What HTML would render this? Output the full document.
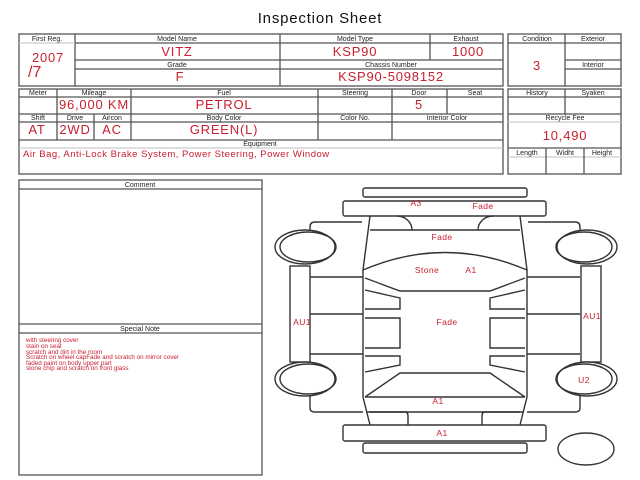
<!DOCTYPE html>
<html><head><style>
html,body{margin:0;padding:0;background:#fff;}
svg{display:block;font-family:"Liberation Sans",sans-serif;}
.l{font-size:7px;fill:#222;text-anchor:middle;}
.v{font-size:13px;fill:#c8202e;text-anchor:middle;letter-spacing:0.8px;}
.r{fill:#c8202e;}
.b{fill:none;stroke:#555;stroke-width:1.3;}
.c{fill:none;stroke:#333;stroke-width:1.4;}
</style></head><body>
<svg width="640" height="480" viewBox="0 0 640 480">
<text x="320" y="23" font-size="15" text-anchor="middle" fill="#111" letter-spacing="0.8">Inspection Sheet</text>

<g class="b">
<rect x="19" y="34" width="484" height="52"/>
<line x1="75" y1="34" x2="75" y2="86"/><line x1="280" y1="34" x2="280" y2="86"/><line x1="430" y1="34" x2="430" y2="60"/>
<line x1="75" y1="43" x2="503" y2="43"/><line x1="19" y1="43" x2="75" y2="43" stroke="#ccc"/>
<line x1="75" y1="60" x2="503" y2="60"/><line x1="75" y1="69" x2="503" y2="69"/>

<rect x="19" y="89" width="484" height="85"/>
<line x1="19" y1="97" x2="503" y2="97"/><line x1="19" y1="114" x2="503" y2="114"/><line x1="19" y1="122" x2="503" y2="122"/><line x1="19" y1="140" x2="503" y2="140"/><line x1="19" y1="148" x2="503" y2="148" stroke="#ccc"/>
<line x1="57" y1="89" x2="57" y2="140"/><line x1="131" y1="89" x2="131" y2="140"/><line x1="318" y1="89" x2="318" y2="140"/><line x1="392" y1="89" x2="392" y2="140"/><line x1="447" y1="89" x2="447" y2="114"/><line x1="94" y1="114" x2="94" y2="140"/>

<rect x="508" y="34" width="113" height="52"/>
<line x1="565" y1="34" x2="565" y2="86"/><line x1="508" y1="43" x2="621" y2="43"/><line x1="565" y1="60" x2="621" y2="60"/><line x1="565" y1="69" x2="621" y2="69"/>
<rect x="508" y="89" width="113" height="85"/>
<line x1="565" y1="89" x2="565" y2="114"/><line x1="508" y1="97" x2="621" y2="97"/><line x1="508" y1="114" x2="621" y2="114"/><line x1="508" y1="122" x2="621" y2="122" stroke="#ccc"/><line x1="508" y1="148" x2="621" y2="148"/><line x1="508" y1="157" x2="621" y2="157" stroke="#ccc"/>
<line x1="546" y1="148" x2="546" y2="174"/><line x1="584" y1="148" x2="584" y2="174"/>

<rect x="19" y="180" width="243" height="295"/>
<line x1="19" y1="189" x2="262" y2="189"/><line x1="19" y1="324" x2="262" y2="324"/><line x1="19" y1="333" x2="262" y2="333"/>
</g>

<text class="l" x="47" y="41">First Reg.</text><text class="l" x="177" y="41">Model Name</text><text class="l" x="355" y="41">Model Type</text><text class="l" x="466" y="41">Exhaust</text>
<text class="l" x="177" y="67">Grade</text><text class="l" x="391" y="67">Chassis Number</text>
<text class="v" x="48" y="62" font-size="16">2007</text><text class="r" x="28" y="77" font-size="16">/7</text>
<text class="v" x="177" y="56">VITZ</text><text class="v" x="355" y="56">KSP90</text><text class="v" x="468" y="56">1000</text>
<text class="v" x="180" y="81">F</text><text class="v" x="391" y="81">KSP90-5098152</text>

<text class="l" x="38" y="95">Meter</text><text class="l" x="94" y="95">Mileage</text><text class="l" x="224" y="95">Fuel</text><text class="l" x="355" y="95">Steering</text><text class="l" x="419" y="95">Door</text><text class="l" x="475" y="95">Seat</text>
<text class="l" x="38" y="120">Shift</text><text class="l" x="75" y="120">Drive</text><text class="l" x="112" y="120">Aircon</text><text class="l" x="224" y="120">Body Color</text><text class="l" x="355" y="120">Color No.</text><text class="l" x="447" y="120">Interior Color</text>
<text class="l" x="260" y="146">Equipment</text>
<text class="v" x="94" y="109" font-size="10">96,000 KM</text><text class="v" x="224" y="109">PETROL</text><text class="v" x="419" y="109">5</text>
<text class="v" x="37" y="134">AT</text><text class="v" x="75" y="134">2WD</text><text class="v" x="112" y="134">AC</text><text class="v" x="224" y="134">GREEN(L)</text>
<text class="r" x="23" y="157" font-size="9.5" letter-spacing="0.5">Air Bag, Anti-Lock Brake System, Power Steering, Power Window</text>

<text class="l" x="537" y="41">Condition</text><text class="l" x="593" y="41">Exterior</text><text class="l" x="593" y="67">Interior</text>
<text class="v" x="537" y="70" font-size="16">3</text>
<text class="l" x="537" y="95">History</text><text class="l" x="593" y="95">Syaken</text><text class="l" x="565" y="120">Recycle Fee</text>
<text class="v" x="565" y="140">10,490</text>
<text class="l" x="527" y="155">Length</text><text class="l" x="565" y="155">Widht</text><text class="l" x="602" y="155">Height</text>

<text class="l" x="140" y="187">Comment</text><text class="l" x="140" y="331">Special Note</text>
<g class="r" font-size="6.3">
<text x="26" y="342">with steering cover</text><text x="26" y="348">stain on seat</text><text x="26" y="354">scratch and dirt in the room</text>
<text x="26" y="359">Scratch on wheel capFade and scratch on mirror cover</text><text x="26" y="365">faded paint on body upper part</text><text x="26" y="370">stone chip and scratch on front glass</text>
</g>

<g class="c">
<rect x="363" y="188" width="164" height="9" rx="2"/>
<rect x="343" y="201" width="203" height="15" rx="2"/>
<rect x="343" y="425" width="203" height="16" rx="2"/>
<rect x="363" y="443" width="164" height="10" rx="2"/>
<path d="M370 216 L363 270 L363 397 L370 425 M520 216 L527 270 L527 397 L520 425"/>
<line x1="370" y1="230" x2="520" y2="230"/>
<path d="M397 216 A15 14 0 0 1 412 230 M493 216 A15 14 0 0 0 478 230"/>
<path d="M363 270 Q445 235 527 270"/>
<path d="M365 278 L400 291 L490 291 L525 278 M365 397 L400 373 L490 373 L525 397"/>
<path d="M365 290 L400 298 L400 309 L365 309 M525 290 L490 298 L490 309 L525 309"/>
<path d="M365 318 L400 318 L400 348 L365 348 M525 318 L490 318 L490 348 L525 348"/>
<path d="M365 356 L400 356 L400 365 L365 372 M525 356 L490 356 L490 365 L525 372"/>
<line x1="365" y1="397" x2="525" y2="397"/><line x1="367" y1="412" x2="523" y2="412"/>
<path d="M370 412 L405 412 Q408 412 408 416 L408 425 M520 412 L485 412 Q482 412 482 416 L482 425"/>
<path d="M362 222 L315 222 Q310 222 310 227 L310 231 M310 367 L310 408 Q310 412 315 412 L363 412"/>
<path d="M528 222 L575 222 Q580 222 580 227 L580 231 M580 367 L580 408 Q580 412 575 412 L527 412"/>
<rect x="290" y="266" width="20" height="96"/><rect x="581" y="266" width="20" height="96"/>
<path d="M310 277 L363 277 M310 314 L363 314 M310 354 L363 354 M527 277 L580 277 M527 314 L580 314 M527 354 L580 354"/>
<ellipse cx="305" cy="247" rx="30" ry="17" fill="#fff"/><ellipse cx="308" cy="247" rx="28" ry="15"/>
<ellipse cx="305" cy="379" rx="30" ry="17" fill="#fff"/><ellipse cx="308" cy="379" rx="28" ry="15"/>
<ellipse cx="587" cy="247" rx="30" ry="17" fill="#fff"/><ellipse cx="584" cy="247" rx="28" ry="15"/>
<ellipse cx="587" cy="379" rx="30" ry="17" fill="#fff"/><ellipse cx="584" cy="379" rx="28" ry="15"/>
<ellipse cx="586" cy="449" rx="28" ry="16"/>
</g>
<g class="r" font-size="8.5" text-anchor="middle" letter-spacing="0.4">
<text x="416" y="206">A3</text><text x="483" y="209">Fade</text><text x="442" y="240">Fade</text>
<text x="427" y="273">Stone</text><text x="471" y="273">A1</text><text x="302" y="325">AU1</text><text x="447" y="325">Fade</text>
<text x="592" y="319">AU1</text><text x="584" y="383">U2</text><text x="438" y="404">A1</text><text x="442" y="436">A1</text>
</g>
</svg>
</body></html>
